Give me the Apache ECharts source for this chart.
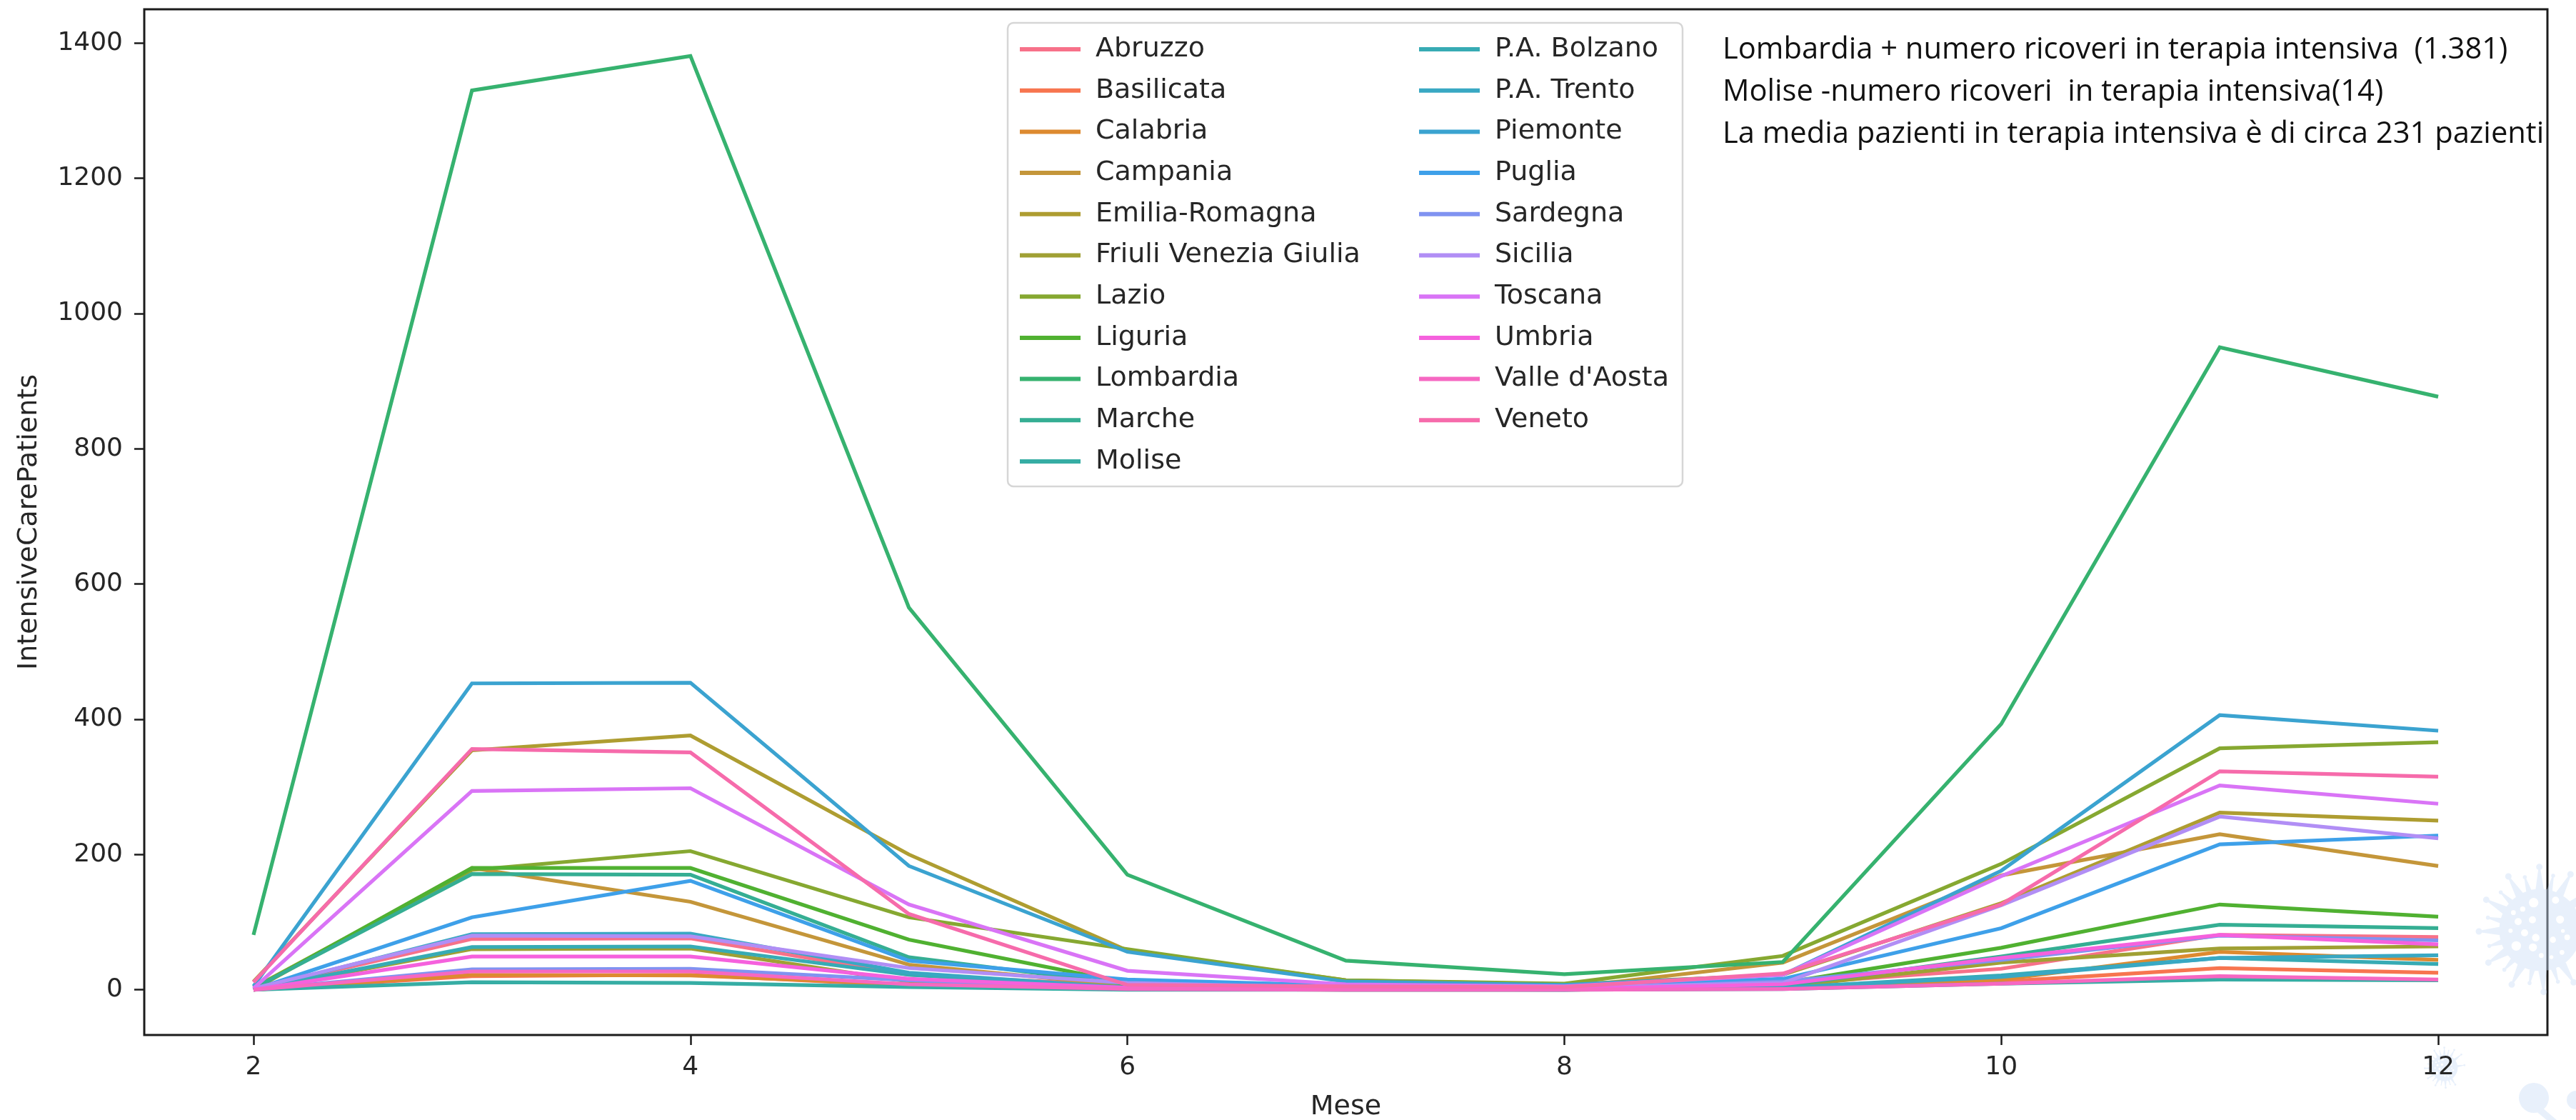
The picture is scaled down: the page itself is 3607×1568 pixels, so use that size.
<!DOCTYPE html>
<html>
<head>
<meta charset="utf-8">
<style>html,body{margin:0;padding:0;background:#fff}#c{width:3607px;height:1568px}</style>
<script src="https://cdn.jsdelivr.net/npm/echarts@6/dist/echarts.min.js"></script>
</head>
<body>
<div id="c"></div>
<script>
const months = [2,3,4,5,6,7,8,9,10,11,12];
const xTicks = [2,4,6,8,10,12];
const yTicks = [0,200,400,600,800,1000,1200,1400];
const regions = ["Abruzzo","Basilicata","Calabria","Campania","Emilia-Romagna","Friuli Venezia Giulia","Lazio","Liguria","Lombardia","Marche","Molise","P.A. Bolzano","P.A. Trento","Piemonte","Puglia","Sardegna","Sicilia","Toscana","Umbria","Valle d'Aosta","Veneto"];
const colors = ["#f77189","#f7754f","#dd8a30","#c4963a","#ae9d31","#a0a034","#86a831","#50b131","#36b26f","#35ae93","#36ada4","#37abb4","#39a8c3","#3ba3d0","#3ea0e9","#8093f1","#b18ef5","#d974f6","#f561dd","#f668c2","#f66bab"];
const abruzzo   = [1,75,76,22,6,3,2,8,31,81,78];
const basilicata= [0,20,22,6,1,0,0,2,12,32,25];
const calabria  = [0,22,21,8,1,1,1,3,15,56,44];
const campania  = [0,180,130,37,6,3,3,40,169,230,183];
const emilia    = [12,354,376,200,58,14,8,22,128,262,250];
const friuli    = [0,60,61,12,3,1,1,4,40,61,64];
const lazio     = [3,177,205,107,60,14,9,50,186,357,366];
const liguria   = [1,180,180,74,10,2,2,10,62,126,108];
const lombardia = [81,1330,1381,565,170,43,23,41,393,950,877];
const marche    = [2,171,170,48,8,2,1,6,49,96,91];
const molise    = [0,11,10,4,0,0,0,1,9,15,14];
const bolzano   = [0,63,64,22,2,0,0,3,21,47,38];
const trento    = [0,82,83,25,3,1,0,3,19,47,51];
const piemonte  = [5,453,454,183,56,12,7,22,176,406,383];
const puglia    = [0,107,161,43,15,6,4,16,91,215,228];
const sardegna  = [0,30,31,14,3,1,1,12,44,80,73];
const sicilia   = [2,80,79,32,10,3,3,10,125,256,224];
const toscana   = [2,294,298,126,28,8,5,22,168,302,275];
const umbria    = [0,49,49,16,3,1,1,8,47,81,67];
const valle     = [0,27,27,8,1,0,0,1,9,20,15];
const veneto    = [11,356,351,112,7,5,4,24,126,323,315];
const seriesValues = [abruzzo,basilicata,calabria,campania,emilia,friuli,lazio,liguria,lombardia,marche,molise,bolzano,trento,piemonte,puglia,sardegna,sicilia,toscana,umbria,valle,veneto];
const notes = ["Lombardia + numero ricoveri in terapia intensiva  (1.381)","Molise -numero ricoveri  in terapia intensiva(14)","La media pazienti in terapia intensiva è di circa 231 pazienti"];

const dejavu = "DejaVu Sans";
const ink = "#262626";
const frame = "#1c1c1c";

// decorative virus watermark (geometry in reference zoom units around its centre)
const knobs = [[466,100,4.5],[336,140,4.5],[405,143,2.8],[304,207,2.8],[243,238,4.5],[250,313,2.8],[212,371,4.5],[256,432,2.8],[252,502,4.5],[319,532,2.8],[350,594,4.5],[425,588,2.8],[484,625,4.5],[544,582,2.8],[610,585,4.5],[597,131,4.5],[524,137,2.8],[690,190,4.5],[730,330,4.5]];
const spots = [[442,250,6.7],[534,240,5],[396,277,3.7],[357,292,3.4],[377,330,5],[437,322,5],[553,321,5.6],[345,368,3],[404,377,5],[451,397,5.3],[523,406,4.3],[583,396,4],[565,369,2.7],[369,432,6.7],[439,438,5.7],[474,472,3.4],[561,459,3.4],[517,479,2.7]];
function circ(x,y,r,sw){return `M${x-r} ${y}A${r} ${r} 0 1 ${sw} ${x+r} ${y}A${r} ${r} 0 1 ${sw} ${x-r} ${y}Z `;}
function virus(cx,cy,k){
  const R=57.5*k; let d=circ(cx,cy,R,1);
  knobs.forEach(([zx,zy,kr])=>{
    const dx=(zx-470)/3*k, dy=(zy-365)/3*k, L=Math.hypot(dx,dy), a=Math.atan2(dy,dx);
    const pt=(r,ang)=>`${cx+r*Math.cos(ang)} ${cy+r*Math.sin(ang)}`;
    const w0=(kr>3?6:4)*k/R, w1=1*k/L;
    d+=`M${pt(R-1,a-w0)}L${pt(L,a-w1)}L${pt(L,a+w1)}L${pt(R-1,a+w0)}Z `;
    d+=circ(cx+dx,cy+dy,kr*k,1);
  });
  spots.forEach(([zx,zy,r])=>{d+=circ(cx+(zx-470)/3*k,cy+(zy-365)/3*k,r*k,0);});
  return d;
}
const tint = "rgba(200,220,245,0.42)";
function deco(name,d,z){
  echarts.graphic.registerShape(name,echarts.graphic.extendPath(d));
  return {type:name,z:z,silent:true,style:{fill:tint}};
}
const moleculeBits = circ(3548,1537,21,1)+circ(3607,1540,13,1)+"M3544 1550L3553 1545L3580 1568L3566 1568Z ";

const legendRow = {orient:"vertical",icon:"rect",itemWidth:85,itemHeight:6,itemGap:17.7,selectedMode:false,
  textStyle:{fontFamily:dejavu,fontSize:38,color:ink,lineHeight:40,padding:[0,0,0,16]},backgroundColor:"transparent"};

const plain = v => String(v);
const option = {
  animation:false,
  backgroundColor:"#ffffff",
  grid:{left:202,top:13,right:40,bottom:119,outerBoundsMode:"none",show:true,borderColor:frame,borderWidth:3,backgroundColor:"transparent",containLabel:false},
  xAxis:{type:"value",min:1.5,max:12.5,name:"Mese",nameLocation:"middle",nameGap:82,
    nameTextStyle:{fontFamily:dejavu,fontSize:38,color:ink},
    axisLine:{show:false,onZero:false},splitLine:{show:false},
    axisTick:{show:true,length:14,lineStyle:{width:2.5,color:frame},customValues:xTicks},
    axisLabel:{fontFamily:dejavu,fontSize:36,color:ink,margin:28,formatter:plain,customValues:xTicks}},
  yAxis:{type:"value",min:-67,max:1450,name:"IntensiveCarePatients",nameLocation:"middle",nameGap:142,
    nameTextStyle:{fontFamily:dejavu,fontSize:38,color:ink},
    axisLine:{show:false,onZero:false},splitLine:{show:false},
    axisTick:{show:true,length:14,lineStyle:{width:2.5,color:frame},customValues:yTicks},
    axisLabel:{fontFamily:dejavu,fontSize:36,color:ink,margin:30,formatter:plain,customValues:yTicks}},
  legend:[
    Object.assign({},legendRow,{left:1423,top:44,data:regions.slice(0,11)}),
    Object.assign({},legendRow,{left:1982,top:44,data:regions.slice(11)})
  ],
  series:regions.map((name,i)=>({
    name:name,type:"line",symbol:"none",silent:true,
    color:colors[i],lineStyle:{width:5.2,color:colors[i],join:"miter"},
    data:months.map((m,j)=>[m,seriesValues[i][j]])
  })),
  graphic:[
    {type:"rect",z:-2,silent:true,shape:{x:1411,y:32,width:945,height:649,r:8},style:{fill:"#fff",stroke:"#d6d6d6",lineWidth:2.5}},
    deco("virusSmall",virus(3423,1495,0.32),-1),
    deco("molecule",moleculeBits,-1),
    deco("virusBig",virus(3557,1302,1),100)
  ].concat(notes.map((t,i)=>({
    type:"text",z:10,silent:true,x:2412,y:70+59*i,
    style:{text:t,fill:"#111",font:'41.7px "Open Sans"',textVerticalAlign:"middle",textAlign:"left"}
  })))
};
const chart = echarts.init(document.getElementById("c"),null,{renderer:"canvas"});
chart.setOption(option);
</script>
</body>
</html>
